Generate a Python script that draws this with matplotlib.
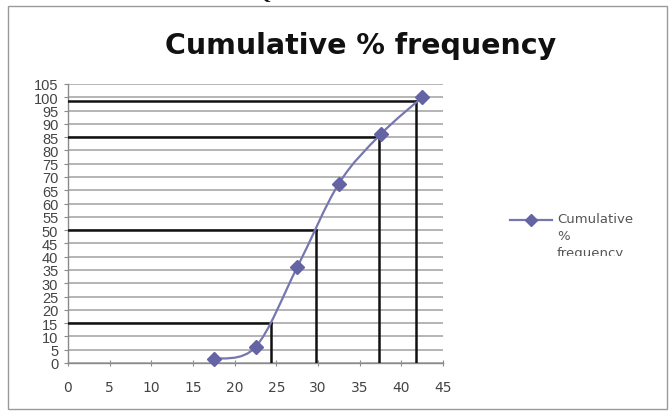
import matplotlib
matplotlib.use("Agg")
import matplotlib.pyplot as plt
from matplotlib.path import Path
from matplotlib.patches import PathPatch, Rectangle
from matplotlib.lines import Line2D
from matplotlib.transforms import Bbox, TransformedBbox
import numpy as np

# ---- data ----
upper_bounds = [17.5, 22.5, 27.5, 32.5, 37.5, 42.5]
cum_pct = [1.5, 6, 36, 67.5, 86, 100]
ref_levels = [15, 50, 85, 98.5]
ref_x = [24.3, 29.8, 37.3, 41.8]
x_ticks = [0, 5, 10, 15, 20, 25, 30, 35, 40, 45]
y_ticks = list(range(0, 106, 5))
title = "Cumulative % frequency"
legend_lines = ["Cumulative", "%", "frequency"]

W, H = 672, 414
fig = plt.figure(figsize=(W / 100, H / 100), dpi=100)
fig.patch.set_facecolor("white")

# outer chart frame
fig.patches.append(Rectangle((8 / W, 1 - 410 / H), (667 - 8) / W, (410 - 7) / H,
                             transform=fig.transFigure, fill=False,
                             edgecolor="#9a9a9a", linewidth=1.0))

ax = fig.add_axes([68 / W, 1 - 364 / H, (443 - 68) / W, (364 - 85) / H])
ax.set_xlim(0, 45)
ax.set_ylim(0, 105)
ax.set_facecolor("white")

for s in ["top", "right"]:
    ax.spines[s].set_visible(False)
for s in ["left", "bottom"]:
    ax.spines[s].set_color("#8a8a8a")
    ax.spines[s].set_linewidth(1.0)

ax.set_xticks(x_ticks)
ax.set_yticks(y_ticks)
ax.set_xticklabels([str(t) for t in x_ticks])
ax.set_yticklabels([str(t) for t in y_ticks])
ax.tick_params(axis="x", direction="inout", length=5, color="#8a8a8a",
               labelsize=10, labelcolor="#444444", pad=10)
ax.tick_params(axis="y", direction="out", length=3, color="#8a8a8a",
               labelsize=10.5, labelcolor="#444444", pad=4)
for lab in ax.get_yticklabels():
    lab.set_family(["Liberation Sans Narrow", "Liberation Sans", "DejaVu Sans"])
    lab.set_fontstretch("condensed")
for lab in ax.get_xticklabels():
    lab.set_family(["DejaVu Sans"])

ax.yaxis.grid(True, color="#a8a8a8", linewidth=1.2)
ax.set_axisbelow(True)

# reference lines
for lv, xv in zip(ref_levels, ref_x):
    ax.plot([0, xv], [lv, lv], color="#111111", linewidth=1.8, zorder=3)
    ax.plot([xv, xv], [0, lv], color="#111111", linewidth=1.8, zorder=3)

# smoothed curve (Excel-style Bezier through the points)
pts = np.column_stack([upper_bounds, cum_pct])
n = len(pts)
verts = [tuple(pts[0])]
codes = [Path.MOVETO]
for i in range(n - 1):
    p0 = pts[i - 1] if i > 0 else pts[i]
    p1 = pts[i]
    p2 = pts[i + 1]
    p3 = pts[i + 2] if i + 2 < n else pts[i + 1]
    c1 = p1 + (p2 - p0) / 6.0
    c2 = p2 - (p3 - p1) / 6.0
    verts += [tuple(c1), tuple(c2), tuple(p2)]
    codes += [Path.CURVE4] * 3
line_color = "#7676b0"
marker_color = "#6464a4"
ax.add_patch(PathPatch(Path(verts, codes), fill=False, edgecolor=line_color,
                       linewidth=1.6, zorder=4))
ax.plot(upper_bounds, cum_pct, linestyle="none", marker="D", markersize=7,
        color=marker_color, markeredgecolor=marker_color, zorder=5, clip_on=False)

# title
fig.text(361 / W, 1 - 46 / H, title, ha="center", va="center",
         fontsize=20.5, fontweight="bold", family=["DejaVu Sans"],
         color="#111111")

# partial heading letter from page above (only its tail shows)
fig.text(264 / W, 1 + 2 / H, "Q", ha="center", va="baseline", fontsize=14,
         fontweight="bold", family=["Liberation Serif", "DejaVu Serif"], color="#111111")

# legend (drawn manually so the key aligns with the first text line)
ly = 1 - 221 / H
fig.add_artist(Line2D([510 / W, 552 / W], [ly, ly], transform=fig.transFigure,
                      color=line_color, linewidth=1.6))
fig.add_artist(Line2D([531 / W], [ly], transform=fig.transFigure, marker="D",
                      markersize=6, color=marker_color, markeredgecolor=marker_color,
                      linestyle="none"))
clip = TransformedBbox(Bbox([[0, 1 - 257 / H], [1, 1]]), fig.transFigure)
for k, txt in enumerate(legend_lines):
    t = fig.text(557 / W, 1 - (220 + 16.5 * k) / H, txt, ha="left", va="center",
                 fontsize=9.5, color="#555555", family=["DejaVu Sans"])
    t.set_clip_on(True)
    t.set_clip_box(clip)

fig.savefig("out.png", dpi=100)
